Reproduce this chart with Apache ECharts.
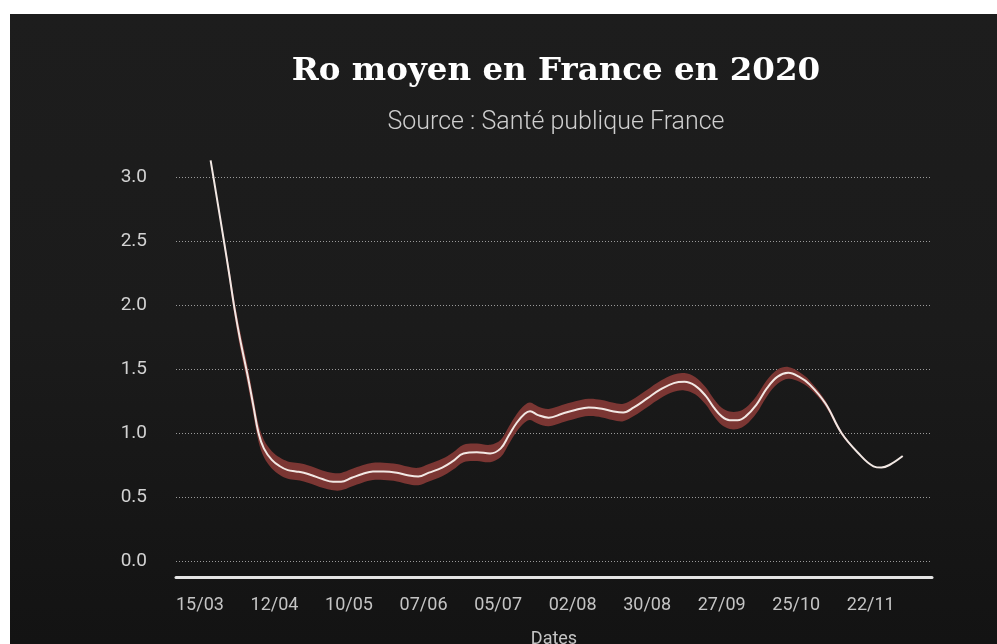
<!DOCTYPE html>
<html>
<head>
<meta charset="utf-8">
<script src="https://cdn.jsdelivr.net/npm/echarts@6/dist/echarts.min.js"></script>
<style>
  html, body { margin: 0; padding: 0; background: #ffffff; width: 997px; height: 644px; overflow: hidden; }
  #chart { position: absolute; left: 10px; top: 14px; width: 987px; height: 630px;
           background: linear-gradient(180deg, #1d1d1d 0%, #1b1b1b 50%, #131313 100%); }
</style>
</head>
<body>
<div id="chart"></div>
<script>
// Days counted from 15/03/2020
const days = [13, 15, 18, 20, 22, 24, 27, 29, 31, 33, 36, 39, 42, 45, 48, 51, 55, 59, 62, 66,
  70, 74, 78, 83, 87, 91, 95, 100, 104, 108, 113, 118, 122, 125, 128, 131, 133, 136, 140, 145,
  150, 155, 160, 164, 168, 172, 177, 182, 187, 191, 195, 199, 202, 205, 208, 211, 214, 218, 222, 226,
  230, 234, 238, 244, 250, 256, 262, 265, 268, 273];
// Mean R0
const r0Values = [3.13, 2.88, 2.50, 2.24, 1.97, 1.74, 1.44, 1.22, 1.00, 0.88, 0.79, 0.74, 0.71, 0.70, 0.69, 0.67, 0.64, 0.62, 0.62, 0.65,
  0.68, 0.70, 0.70, 0.69, 0.67, 0.66, 0.69, 0.73, 0.78, 0.84, 0.85, 0.84, 0.88, 0.98, 1.08, 1.15, 1.17, 1.14, 1.12, 1.15,
  1.18, 1.20, 1.19, 1.17, 1.16, 1.20, 1.27, 1.34, 1.39, 1.40, 1.37, 1.29, 1.20, 1.13, 1.10, 1.10, 1.13, 1.22, 1.35, 1.44,
  1.47, 1.44, 1.38, 1.23, 1.00, 0.85, 0.74, 0.73, 0.75, 0.82];
// Half width of the confidence band
const ciHalf = [0, 0.01, 0.03, 0.045, 0.055, 0.065, 0.068, 0.068, 0.068, 0.068, 0.068, 0.068, 0.068, 0.068, 0.068, 0.068, 0.068, 0.068, 0.068, 0.068,
  0.068, 0.068, 0.068, 0.068, 0.068, 0.068, 0.068, 0.068, 0.068, 0.068, 0.068, 0.068, 0.068, 0.068, 0.068, 0.068, 0.068, 0.068, 0.068, 0.068,
  0.068, 0.068, 0.068, 0.068, 0.068, 0.068, 0.068, 0.068, 0.068, 0.068, 0.068, 0.068, 0.068, 0.068, 0.068, 0.068, 0.068, 0.068, 0.064, 0.056,
  0.046, 0.038, 0.031, 0.022, 0.013, 0.004, 0, 0, 0, 0];
const xTickInterval = 28;
const xTickLabels = ['15/03', '12/04', '10/05', '07/06', '05/07', '02/08', '30/08', '27/09', '25/10', '22/11'];
const xMax = 284;
const yTicks = [0, 0.5, 1, 1.5, 2, 2.5, 3];

const titleText = 'Ro moyen en France en 2020';
const subtitleText = 'Source : Santé publique France';
const xName = 'Dates';

function dayLabel(v) {
  if (v % xTickInterval !== 0) return '';
  return xTickLabels[v / xTickInterval] || '';
}

// indices that carry a visible band (plus their zero-width neighbours)
const bandIdx = [];
ciHalf.forEach((h, i) => {
  if (h > 0 || (i > 0 && ciHalf[i - 1] > 0) || (i < ciHalf.length - 1 && ciHalf[i + 1] > 0)) bandIdx.push(i);
});

const lineData = days.map((d, i) => [d, r0Values[i]]);

const chart = echarts.init(document.getElementById('chart'), null, { renderer: 'canvas' });
chart.setOption({
  backgroundColor: 'transparent',
  animation: false,
  title: {
    text: titleText,
    subtext: subtitleText,
    left: 541,
    top: 36,
    textAlign: 'center',
    itemGap: 22,
    textStyle: { fontFamily: 'DejaVu Serif', fontWeight: 'bold', fontSize: 32.5, color: '#ffffff' },
    subtextStyle: { fontFamily: 'Roboto', fontWeight: 300, fontSize: 25, color: '#cfcfcf' }
  },
  grid: { left: 166, right: 65, top: 163, bottom: 83, containLabel: false, outerBoundsMode: 'none' },
  xAxis: {
    type: 'value',
    min: 0,
    max: xMax,
    interval: xTickInterval,
    offset: 16,
    name: xName,
    nameLocation: 'middle',
    nameGap: 53,
    nameTextStyle: { fontFamily: 'Roboto', fontSize: 18, color: '#c4c4c4' },
    axisLine: { show: true, onZero: false, lineStyle: { color: '#e4e4e4', width: 3 } },
    axisTick: { show: false },
    splitLine: { show: false },
    axisLabel: {
      formatter: dayLabel,
      align: 'left',
      margin: 19,
      showMaxLabel: false,
      fontFamily: 'Roboto', fontSize: 18, color: '#c4c4c4'
    }
  },
  yAxis: {
    type: 'value',
    min: yTicks[0],
    max: yTicks[yTicks.length - 1],
    interval: 0.5,
    axisLine: { show: false },
    axisTick: { show: false },
    axisLabel: {
      formatter: v => v.toFixed(1),
      margin: 29,
      fontFamily: 'Roboto', fontSize: 19, color: '#d2d2d2'
    },
    splitLine: { show: true, lineStyle: { color: '#9a9a9a', type: [1, 2], width: 1 } }
  },
  series: [
    {
      type: 'custom',
      silent: true,
      z: 1,
      data: [[0, 0]],
      renderItem: function (params, api) {
        const up = [], lo = [];
        bandIdx.forEach(i => {
          up.push(api.coord([days[i], r0Values[i] + ciHalf[i]]));
          lo.push(api.coord([days[i], r0Values[i] - ciHalf[i]]));
        });
        return {
          type: 'polygon',
          shape: { points: up.concat(lo.reverse()), smooth: 0.35 },
          style: { fill: '#7b3633' }
        };
      }
    },
    {
      type: 'line', data: lineData, smooth: 0.4, symbol: 'none', clip: false,
      lineStyle: { color: '#f2e8e4', width: 2 }, z: 3
    }
  ]
});
</script>
</body>
</html>
